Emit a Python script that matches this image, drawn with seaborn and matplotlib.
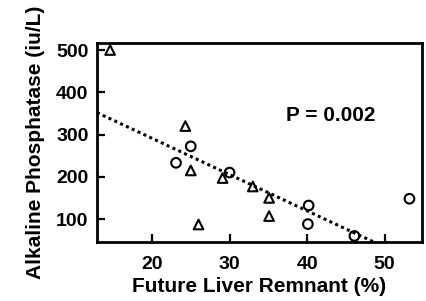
import numpy as np
import pandas as pd
import seaborn as sns
import matplotlib
matplotlib.use('Agg')
import matplotlib.pyplot as plt

# values
tri_flr = [14.6, 24.3, 25.0, 26.0, 29.1, 33.0, 35.1, 35.1]
tri_alp = [500, 320, 215, 87, 197, 177, 150, 107]
circ_flr = [23.1, 25.0, 30.0, 40.2, 40.1, 46.1, 53.2]
circ_alp = [233, 272, 210, 132, 88, 60, 148]
# dotted trend line
fit_flr = [12.9, 48.6]
fit_alp = [352, 45.6]
x_ticks = [20, 30, 40, 50]
y_ticks = [100, 200, 300, 400, 500]

df = pd.DataFrame({
    'flr': tri_flr + circ_flr,
    'alp': tri_alp + circ_alp,
    'group': ['tri'] * len(tri_flr) + ['circ'] * len(circ_flr),
})

sns.set_style('ticks')
plt.rcParams['font.family'] = ['Liberation Sans', 'DejaVu Sans']
plt.rcParams['font.weight'] = 'bold'
plt.rcParams['text.color'] = 'black'
plt.rcParams['axes.labelcolor'] = 'black'
plt.rcParams['xtick.color'] = 'black'
plt.rcParams['ytick.color'] = 'black'
plt.rcParams['axes.edgecolor'] = 'black'

fig = plt.figure(figsize=(4.27, 3.01), dpi=100)
ax = fig.add_axes([0.227, 0.196, 0.761, 0.661])

sns.lineplot(x=fit_flr, y=fit_alp, ax=ax, color='black', linestyle=(0, (1, 1.1)),
             linewidth=2.2)
sns.scatterplot(data=df, x='flr', y='alp', style='group', ax=ax,
                markers={'tri': '^', 'circ': 'o'}, s=48, facecolor='none',
                edgecolor='black', linewidth=1.5, legend=False, zorder=3)

ax.set_xlim(12.9, 54.8)
ax.set_ylim(45.6, 516.5)
ax.set_xticks(x_ticks)
ax.set_yticks(y_ticks)
ax.tick_params(direction='in', length=6, width=1.6, labelsize=14)
ax.tick_params(axis='x', pad=10)
ax.tick_params(axis='y', pad=6)
for lab in ax.get_xticklabels() + ax.get_yticklabels():
    lab.set_fontweight('bold')
for side in ['left', 'bottom', 'top', 'right']:
    ax.spines[side].set_linewidth(2)

ax.set_xlabel('Future Liver Remnant (%)', fontsize=15, fontweight='bold', labelpad=3)
ax.set_ylabel('Alkaline Phosphatase (iu/L)', fontsize=15, fontweight='bold', labelpad=8)
ax.text(43, 345, 'P = 0.002', fontsize=15, fontweight='bold', ha='center', va='center')

fig.savefig('out.png', dpi=100)
